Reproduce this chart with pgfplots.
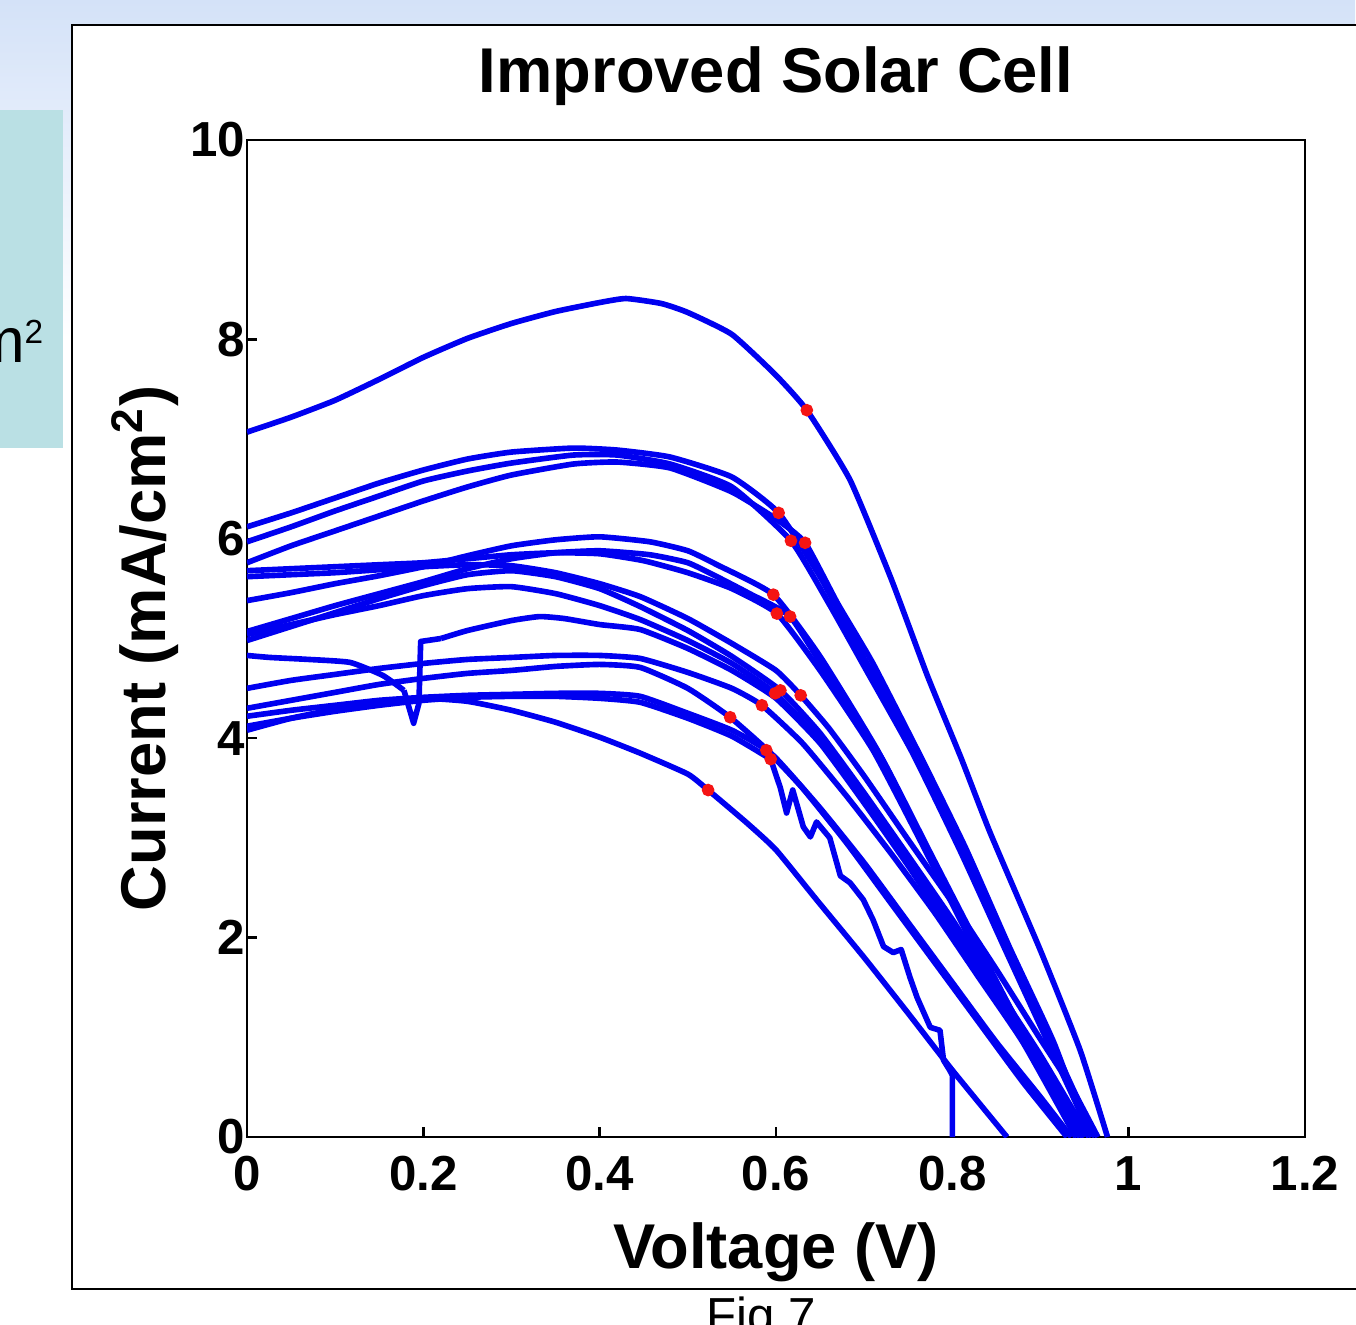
\documentclass[border=0pt]{standalone}
\usepackage{fontspec}
\setmainfont{Liberation Sans}
\usepackage{pgfplots}
\pgfplotsset{compat=1.18}
\definecolor{slideblue}{RGB}{212,226,248}
\definecolor{boxcyan}{RGB}{186,224,228}
\definecolor{ivblue}{RGB}{0,0,240}
\definecolor{mppred}{RGB}{245,20,20}
\pgfplotsset{
  iv/.style={ivblue, line width=1.6pt, line join=round, smooth, tension=0.3, no markers},
  ivsharp/.style={ivblue, line width=1.6pt, line join=round, sharp plot, no markers},
}
\begin{document}
\begin{tikzpicture}
\useasboundingbox (0,0) rectangle (13.56cm,-13.25cm);
\begin{scope}[x=0.01cm,y=-0.01cm]
  % slide background
  \shade[top color=slideblue, bottom color=white] (0,0) rectangle (1356,340);
  \fill[boxcyan] (0,110) rectangle (63,448);
  \node[anchor=base east, inner sep=0, font=\fontsize{18}{18}\selectfont] at (44,363)
    {m\raisebox{5.5pt}{\fontsize{9.5}{9.5}\selectfont 2}};
  % figure panel
  \filldraw[fill=white, draw=black, line width=0.7pt] (72,25) rectangle (1420,1290);
  \node[anchor=base, inner sep=0, font=\fontsize{14}{14}\selectfont] at (762,1333) {Fig 7};
\end{scope}

\begin{axis}[
  at={(2.47cm,-11.37cm)}, anchor=south west,
  width=10.58cm, height=9.97cm, scale only axis,
  xmin=0, xmax=1.2, ymin=0, ymax=10,
  xtick={0,0.2,0.4,0.6,0.8,1,1.2},
  ytick={0,2,4,6,8,10},
  tick pos=left, tick align=inside, major tick length=1mm,
  axis line style={black, line width=0.7pt},
  tick style={black, line width=0.7pt},
  ticklabel style={font=\fontsize{14}{14}\selectfont\bfseries},
  /pgf/number format/assume math mode=true,
  xticklabel style={yshift=-2pt},
  yticklabel style={xshift=3pt},
  title={Improved Solar Cell},
  title style={at={(axis description cs:0.5,1.026)}, anchor=base,
    font=\fontsize{18}{18}\selectfont\bfseries},
  xlabel={Voltage (V)},
  ylabel={Current (mA/cm\textsuperscript{2})},
  every axis x label/.style={at={(axis description cs:0.5,-0.1314)}, anchor=base,
    font=\fontsize{18}{18}\selectfont\bfseries},
  every axis y label/.style={at={(axis description cs:-0.0775,0.49)}, anchor=base, rotate=90,
    font=\fontsize{18}{18}\selectfont\bfseries},
]
% top cell
\addplot[iv] coordinates {(0,7.07)(0.05,7.22)(0.1,7.39)(0.15,7.6)(0.2,7.82)(0.25,8.01)(0.3,8.16)(0.35,8.28)(0.4,8.37)(0.43,8.41)(0.47,8.36)(0.5,8.27)(0.55,8.05)(0.6,7.64)(0.635,7.29)(0.684,6.59)(0.731,5.59)(0.772,4.62)(0.81,3.8)(0.843,3.05)(0.9,1.87)(0.945,0.87)(0.976,0)};
% group near 6.9
\addplot[iv] coordinates {(0,6.12)(0.05,6.26)(0.1,6.41)(0.15,6.56)(0.2,6.69)(0.25,6.8)(0.3,6.87)(0.37,6.91)(0.42,6.89)(0.48,6.82)(0.55,6.62)(0.603,6.26)(0.65,5.62)(0.7,4.8)(0.76,3.88)(0.81,2.95)(0.865,1.88)(0.91,1.0)(0.962,0)};
\addplot[iv] coordinates {(0,5.97)(0.05,6.12)(0.1,6.28)(0.15,6.43)(0.2,6.58)(0.25,6.68)(0.3,6.76)(0.37,6.84)(0.42,6.84)(0.48,6.75)(0.55,6.52)(0.617,5.98)(0.66,5.35)(0.7,4.72)(0.755,3.85)(0.81,2.85)(0.86,1.88)(0.91,0.92)(0.958,0)};
\addplot[iv] coordinates {(0,5.76)(0.05,5.93)(0.1,6.08)(0.15,6.23)(0.2,6.38)(0.25,6.52)(0.3,6.64)(0.37,6.75)(0.42,6.77)(0.48,6.71)(0.55,6.47)(0.6,6.2)(0.633,5.96)(0.67,5.35)(0.71,4.75)(0.765,3.8)(0.815,2.9)(0.865,1.9)(0.915,0.95)(0.955,0)};
% group near 6.0
\addplot[iv] coordinates {(0,5.38)(0.05,5.46)(0.1,5.55)(0.15,5.63)(0.2,5.72)(0.25,5.83)(0.3,5.93)(0.35,5.99)(0.4,6.02)(0.457,5.97)(0.5,5.88)(0.533,5.74)(0.597,5.44)(0.65,4.82)(0.715,3.88)(0.77,2.92)(0.83,1.88)(0.89,0.9)(0.948,0)};
\addplot[iv] coordinates {(0,5.07)(0.05,5.2)(0.1,5.33)(0.15,5.45)(0.2,5.57)(0.25,5.7)(0.3,5.8)(0.35,5.86)(0.4,5.88)(0.457,5.84)(0.5,5.76)(0.533,5.62)(0.57,5.45)(0.616,5.22)(0.66,4.62)(0.72,3.8)(0.775,2.85)(0.835,1.82)(0.89,0.88)(0.945,0)};
\addplot[iv] coordinates {(0,5.68)(0.05,5.7)(0.1,5.72)(0.15,5.74)(0.2,5.76)(0.25,5.8)(0.3,5.84)(0.35,5.86)(0.4,5.85)(0.45,5.78)(0.5,5.66)(0.55,5.5)(0.601,5.25)(0.65,4.68)(0.71,3.88)(0.765,2.95)(0.825,1.9)(0.885,0.9)(0.942,0)};
% lower group
\addplot[iv] coordinates {(0,5.62)(0.05,5.64)(0.1,5.66)(0.15,5.69)(0.2,5.72)(0.25,5.74)(0.3,5.73)(0.35,5.66)(0.4,5.55)(0.446,5.42)(0.5,5.2)(0.55,4.95)(0.6,4.68)(0.628,4.43)(0.66,4.1)(0.7,3.62)(0.75,2.98)(0.8,2.35)(0.85,1.68)(0.9,0.98)(0.935,0.5)(0.965,0)};
\addplot[iv] coordinates {(0,4.98)(0.05,5.12)(0.1,5.26)(0.15,5.4)(0.2,5.53)(0.25,5.64)(0.3,5.68)(0.35,5.62)(0.4,5.5)(0.446,5.32)(0.5,5.08)(0.55,4.82)(0.605,4.48)(0.65,4.05)(0.7,3.45)(0.75,2.82)(0.8,2.18)(0.85,1.5)(0.9,0.82)(0.955,0)};
\addplot[iv] coordinates {(0,5.04)(0.05,5.14)(0.1,5.24)(0.15,5.33)(0.2,5.43)(0.25,5.5)(0.3,5.52)(0.35,5.45)(0.4,5.33)(0.446,5.19)(0.5,4.98)(0.55,4.75)(0.599,4.45)(0.65,3.98)(0.7,3.38)(0.75,2.75)(0.8,2.1)(0.85,1.45)(0.9,0.78)(0.95,0)};
% curve with the jump near 0.2 V
\addplot[iv] coordinates {(0,4.83)(0.026,4.81)(0.07,4.79)(0.117,4.76)(0.154,4.63)(0.178,4.48)};
\addplot[ivsharp] coordinates {(0.178,4.48)(0.189,4.15)(0.195,4.35)(0.197,4.97)(0.22,5.0)};
\addplot[iv] coordinates {(0.22,5.0)(0.25,5.08)(0.3,5.18)(0.332,5.22)(0.36,5.2)(0.4,5.14)(0.446,5.09)(0.5,4.9)(0.55,4.68)(0.6,4.4)(0.65,3.95)(0.7,3.35)(0.75,2.72)(0.8,2.05)(0.85,1.38)(0.9,0.72)(0.945,0)};
\addplot[iv] coordinates {(0,4.5)(0.05,4.58)(0.1,4.64)(0.15,4.7)(0.2,4.75)(0.25,4.79)(0.3,4.81)(0.35,4.83)(0.4,4.83)(0.446,4.8)(0.5,4.66)(0.55,4.5)(0.584,4.33)(0.63,3.95)(0.68,3.42)(0.73,2.85)(0.78,2.25)(0.83,1.6)(0.88,0.95)(0.94,0)};
\addplot[iv] coordinates {(0,4.3)(0.05,4.38)(0.1,4.46)(0.15,4.54)(0.2,4.6)(0.25,4.65)(0.3,4.68)(0.35,4.72)(0.4,4.74)(0.446,4.71)(0.5,4.5)(0.548,4.21)(0.6,3.8)(0.65,3.3)(0.7,2.75)(0.75,2.15)(0.8,1.55)(0.85,0.95)(0.9,0.4)(0.935,0)};
\addplot[iv] coordinates {(0,4.22)(0.05,4.28)(0.1,4.33)(0.15,4.38)(0.2,4.41)(0.25,4.43)(0.3,4.44)(0.35,4.45)(0.4,4.45)(0.446,4.42)(0.5,4.25)(0.55,4.08)(0.589,3.88)(0.63,3.5)(0.68,2.95)(0.73,2.35)(0.78,1.75)(0.83,1.15)(0.88,0.55)(0.93,0)};
% jagged curve ending at 0.8 V
\addplot[iv] coordinates {(0,4.12)(0.05,4.2)(0.1,4.27)(0.15,4.33)(0.2,4.38)(0.25,4.41)(0.3,4.42)(0.35,4.42)(0.4,4.4)(0.446,4.36)(0.5,4.2)(0.55,4.02)(0.594,3.79)};
\addplot[ivsharp] coordinates {(0.594,3.79)(0.605,3.5)(0.612,3.25)(0.619,3.48)(0.631,3.11)(0.639,3.01)(0.646,3.16)(0.661,3.0)(0.673,2.62)(0.684,2.55)(0.699,2.38)(0.71,2.18)(0.722,1.91)(0.733,1.85)(0.742,1.88)(0.752,1.6)(0.76,1.4)(0.775,1.1)(0.786,1.07)(0.79,0.77)(0.797,0.67)(0.8,0.62)(0.8,0)};
% lowest curve
\addplot[iv] coordinates {(0,4.08)(0.05,4.2)(0.1,4.29)(0.15,4.36)(0.2,4.4)(0.25,4.37)(0.3,4.28)(0.35,4.16)(0.4,4.01)(0.446,3.85)(0.5,3.64)(0.523,3.48)(0.567,3.15)(0.6,2.88)(0.646,2.38)(0.7,1.8)(0.75,1.24)(0.8,0.67)(0.862,0)};
% maximum power points
\addplot[only marks, mark=*, mark size=1.6pt, mppred] coordinates {(0.635,7.29)(0.603,6.26)(0.617,5.98)(0.633,5.96)(0.597,5.44)(0.601,5.25)(0.616,5.22)(0.599,4.45)(0.605,4.48)(0.628,4.43)(0.584,4.33)(0.548,4.21)(0.589,3.88)(0.594,3.79)(0.523,3.48)};
\end{axis}
\end{tikzpicture}
\end{document}
